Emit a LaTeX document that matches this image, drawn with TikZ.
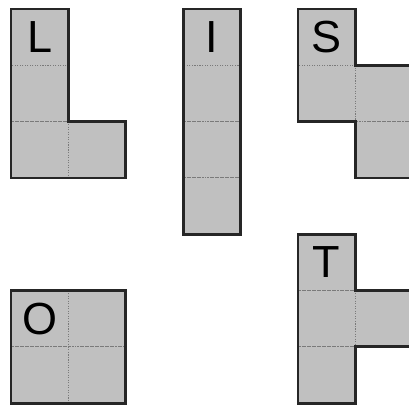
\documentclass[tikz,border=0pt]{standalone}
\usepackage{fontspec}
\setmainfont{Liberation Sans}
\usepackage{xcolor}
\usetikzlibrary{positioning}
\definecolor{blockgray}{HTML}{C0C0C0}
\definecolor{seamgray}{HTML}{7A7A7A}

\begin{document}
\begin{tikzpicture}[
  cell/.style={fill=blockgray, draw=seamgray, densely dotted, line width=0.8pt},
  outline/.style={draw=black!85, line width=2pt, line join=miter},
  letter/.style={font=\fontsize{32}{32}\selectfont, inner sep=0pt}
]
  \useasboundingbox (0,0) rectangle (10.225,-10.125);
  \begin{scope}[shift={(0.275,-0.225)}, x=1.435cm, y=-1.4075cm]
    % L piece
    \foreach \c/\r in {0/0, 0/1, 0/2, 1/2}
      \draw[cell] (\c,\r) rectangle ++(1,1);
    \draw[outline] (0,0) -- (1,0) -- (1,2) -- (2,2) -- (2,3) -- (0,3) -- cycle;
    \node[letter] (labL) at (0.5,0.5) {L};

    % I piece
    \foreach \r in {0,...,3}
      \draw[cell] (3,\r) rectangle ++(1,1);
    \draw[outline] (3,0) rectangle (4,4);
    \node[letter] (labI) at (3.5,0.5) {I};

    % S piece
    \foreach \c/\r in {5/0, 5/1, 6/1, 6/2}
      \draw[cell] (\c,\r) rectangle ++(1,1);
    \draw[outline] (5,0) -- (6,0) -- (6,1) -- (7,1) -- (7,3) -- (6,3) -- (6,2) -- (5,2) -- cycle;
    \node[letter] (labS) at (5.5,0.5) {S};

    % O piece
    \foreach \c/\r in {0/5, 1/5, 0/6, 1/6}
      \draw[cell] (\c,\r) rectangle ++(1,1);
    \draw[outline] (0,5) rectangle (2,7);
    \node[letter] (labO) at (0.5,5.5) {O};

    % T piece
    \foreach \c/\r in {5/4, 5/5, 5/6, 6/5}
      \draw[cell] (\c,\r) rectangle ++(1,1);
    \draw[outline] (5,4) -- (6,4) -- (6,5) -- (7,5) -- (7,6) -- (6,6) -- (6,7) -- (5,7) -- cycle;
    \node[letter] (labT) at (5.5,4.5) {T};
  \end{scope}
\end{tikzpicture}
\end{document}
